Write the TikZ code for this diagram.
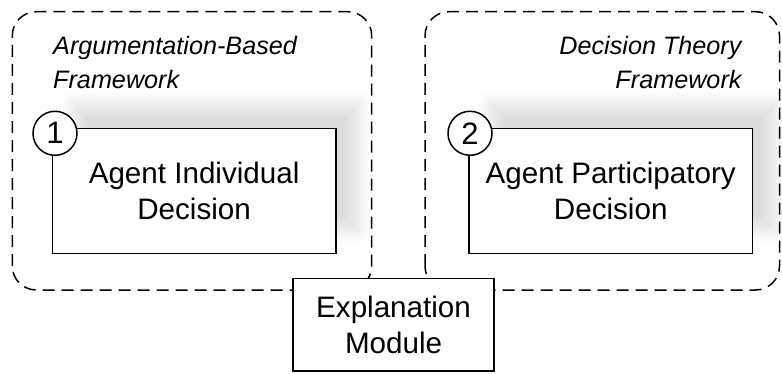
\documentclass[tikz,border=0pt]{standalone}
\usepackage{fontspec}
\setmainfont{Liberation Sans}
\usetikzlibrary{shadows.blur}
\begin{document}
\begin{tikzpicture}[x=1pt,y=1pt,
  frame/.style={draw=black, line width=1.5pt, dash pattern=on 12pt off 7pt, rounded corners=24pt},
  decbox/.style={draw=black, line width=1.5pt, fill=white,
    blur shadow={shadow xshift=22pt, shadow yshift=24pt, shadow blur radius=14pt, shadow opacity=14, shadow blur steps=16}},
  plainbox/.style={draw=black, line width=1.5pt, fill=white},
  boxtext/.style={font=\fontsize{29.6}{36}\selectfont, align=center, text=black},
  lbl/.style={font=\fontsize{25.2}{34}\selectfont\itshape, inner sep=0pt, text=black},
  numc/.style={draw=black, line width=1.5pt, fill=white, circle, minimum size=44pt, inner sep=0pt, font=\fontsize{31}{34}\selectfont}
]
\useasboundingbox (0,0) rectangle (782,373);
% containers
\draw[frame] (12.3,83) rectangle (371.7,361.3);
\draw[frame] (425,83) rectangle (779.5,361.3);
% labels
\node[lbl, anchor=north west, align=left] (l1) at (53,337) {Argumentation-Based\\Framework};
\node[lbl, anchor=north east, align=right] (l2) at (741.7,337) {Decision Theory\\Framework};
% decision boxes
\node[decbox, minimum width=283.3pt, minimum height=124.7pt, inner sep=0pt, anchor=south west] (b1) at (51.7,119) {};
\node[boxtext] (t1) at (b1.center) {Agent Individual\\Decision};
\node[decbox, minimum width=283.4pt, minimum height=124.7pt, inner sep=0pt, anchor=south west] (b2) at (468.3,119) {};
\node[boxtext] (t2) at (b2.center) {Agent Participatory\\Decision};
% number circles
\node[numc] (c1) at (55,239.7) {1};
\node[numc] (c2) at (470,239.7) {2};
% explanation module
\node[plainbox, minimum width=201pt, minimum height=92.4pt, inner sep=0pt, anchor=south west] (em) at (292.3,1.3) {};
\node[boxtext] (te) at (em.center) {Explanation\\Module};
\end{tikzpicture}
\end{document}
